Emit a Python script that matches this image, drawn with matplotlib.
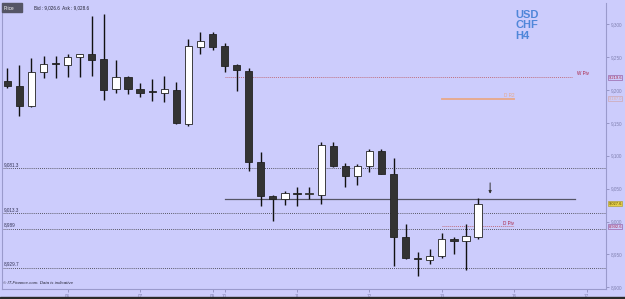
import numpy as np
import matplotlib
matplotlib.use("Agg")
import matplotlib.pyplot as plt
from matplotlib.patches import Rectangle

plt.rcParams['font.family'] = ['Liberation Sans', 'DejaVu Sans']

# ------------------- candle data (H4) ------------------- #
opens = [9214, 9206, 9175, 9227, 9240, 9238, 9250, 9254, 9247, 9202,
         9220, 9202, 9197.5, 9195.5, 9200.5, 9149, 9265, 9285, 9267, 9238,
         9229, 9090, 9039, 9035, 9043, 9042.5, 9041, 9115, 9085, 9069,
         9085, 9108, 9073, 8976, 8945, 8942, 8947, 8974, 8970, 8977]
highs = [9233, 9238, 9248, 9251, 9251, 9255, 9255, 9313, 9316, 9246,
         9222, 9210, 9217, 9221, 9212, 9277, 9288, 9288, 9272, 9239,
         9233, 9105, 9041, 9047, 9053, 9053, 9121, 9121, 9089, 9088,
         9111, 9111, 9097, 8997, 8953, 8958, 8982, 8976, 8996, 9036]
lows = [9203, 9161, 9174, 9218, 9218, 9220, 9220, 9222, 9185, 9195,
        9194, 9189, 9184, 9181, 9148, 9146, 9254, 9261, 9227, 9199,
        9077, 9023, 9001, 9025, 9024, 9035, 9027, 9083, 9052, 9055,
        9075, 9072, 8933, 8943, 8917, 8936, 8945, 8950, 8927, 8973]
closes = [9206, 9176, 9227, 9239, 9239, 9250, 9254, 9246, 9200, 9220,
          9202, 9196, 9197, 9201.5, 9150, 9267, 9274, 9266, 9237, 9230,
          9090, 9039, 9035, 9043, 9042.5, 9043, 9116, 9085, 9069, 9085,
          9108, 9073, 8976, 8944, 8943, 8947, 8974, 8970, 8978, 9027]

day_pos = [5, 11, 17, 18, 24, 30, 36, 42, 48]
day_labels = ['06', '07', '09', '10', '11', '12', '13', '16', '17']

price_ticks = [8900, 8950, 9000, 9050, 9100, 9150, 9200, 9250, 9300]

# support / resistance levels drawn across the chart
level_values = [9081.3, 9013.3, 8989, 8929.7]
level_labels = ['9,081.3', '9,013.3', '8,989', '8,929.7']

w_piv = 9219.6
d_piv = 8992.6
d_r = 9187.0
trend_level = 9034
last_price = 9027.6

BG = '#ccccfc'

fig = plt.figure(figsize=(6.25, 2.99), dpi=100, facecolor=BG)
ax = fig.add_axes([2 / 625, 10 / 299, 604 / 625, 286 / 299], facecolor=BG)

x = np.arange(len(opens))
o = np.array(opens)
c = np.array(closes)
up = c >= o

# wicks
ax.vlines(x, lows, highs, color='#111111', lw=1.0, zorder=3)
# bodies
bottoms = np.minimum(o, c)
heights = np.maximum(np.abs(c - o), 1.6)
colors = np.where(up, 'white', '#333333')
ax.bar(x, heights, bottom=bottoms, width=0.6, color=colors,
       edgecolor='#222222', linewidth=0.6, zorder=4)

# dotted levels
for v, lab in zip(level_values, level_labels):
    ax.axhline(v, color='#333333', ls=(0, (1, 1.5)), lw=0.6, zorder=2)
    ax.text(-0.3, v + 1.5, lab, fontsize=3.3, color='#333355', va='bottom', ha='left')

# pivots
ax.plot([18, 46.8], [w_piv, w_piv], color='#c07080', ls=(0, (1, 1)), lw=0.7, zorder=2)
ax.text(48.2, w_piv + 1, 'W Piv', fontsize=3.3, color='#aa2244', ha='right', va='bottom')
ax.plot([36, 42], [d_piv, d_piv], color='#c07080', ls=(0, (1, 1)), lw=0.7, zorder=2)
ax.text(42, d_piv + 1, 'D Piv', fontsize=3.3, color='#aa2244', ha='right', va='bottom')
ax.plot([36, 42], [d_r, d_r], color='#e8a888', lw=1.3, zorder=2)
ax.text(42, d_r + 1.5, 'D R2', fontsize=3.3, color='#e8a888', ha='right', va='bottom')

# grey horizontal line + arrow
ax.plot([18, 47], [trend_level, trend_level], color='#555566', lw=0.9, zorder=2)
ax.annotate('', xy=(40, 9038), xytext=(40, 9063),
            arrowprops=dict(arrowstyle='-|>', color='#333333', lw=0.7,
                            mutation_scale=4))

ax.set_xlim(-0.44, 49.6)
ax.set_ylim(8897.4, 9332.3)

ax.yaxis.tick_right()
ax.set_yticks(price_ticks)
ax.set_yticklabels([f'{p // 1000},{p % 1000:03d}' for p in price_ticks])
ax.set_xticks(day_pos)
ax.set_xticklabels(day_labels)
ax.tick_params(axis='both', labelsize=3.3, colors='#8080b0', length=2.5, width=0.5, pad=1.2)
for s in ['left', 'right', 'bottom']:
    ax.spines[s].set_color('#9a9acc')
    ax.spines[s].set_linewidth(0.8)
ax.spines['top'].set_visible(False)

# price boxes on the right axis
boxes = [(w_piv, '9,219.6', '#aa2244', BG, '#9966aa'),
         (d_r, '9,187.0', '#e0b0a0', BG, '#d0a8b0'),
         (last_price, '9,027.6', '#554400', '#e6d04a', '#b0a040'),
         (d_piv, '8,992.6', '#aa2244', BG, '#9966aa')]
for val, txt, tc, fc, ec in boxes:
    ax.annotate(txt, xy=(1.004, val), xycoords=('axes fraction', 'data'),
                fontsize=2.9, color=tc, va='center', ha='left', zorder=6,
                bbox=dict(boxstyle='square,pad=0.12', fc=fc, ec=ec, lw=0.5),
                annotation_clip=False)

# header
fig.add_artist(Rectangle((2 / 625, 1 - 12 / 299), 20 / 625, 9 / 299,
                         transform=fig.transFigure, color='#555566'))
fig.text(4 / 625, 1 - 8 / 299, 'Price', fontsize=3.3, color='white', va='center')
fig.text(34 / 625, 1 - 7.5 / 299, 'Bid : 9,026.6  Ask : 9,028.6', fontsize=3.3,
         color='#222233', va='center')

fig.text(515 / 625, 1 - 10 / 299, 'USD\nCHF\nH4', fontsize=8, fontweight='bold',
         color='#4f86d9', va='top', ha='left', linespacing=1.05)

fig.text(3 / 625, 1 - 283 / 299, '© IT-Finance.com. Data is indicative', fontsize=3.2,
         style='italic', color='#222233', va='center')

# dark strip at the bottom
fig.add_artist(Rectangle((0, 0), 1, 2 / 299, transform=fig.transFigure, color='#2a2a2a'))

fig.savefig('out.png', dpi=100, facecolor=BG)
